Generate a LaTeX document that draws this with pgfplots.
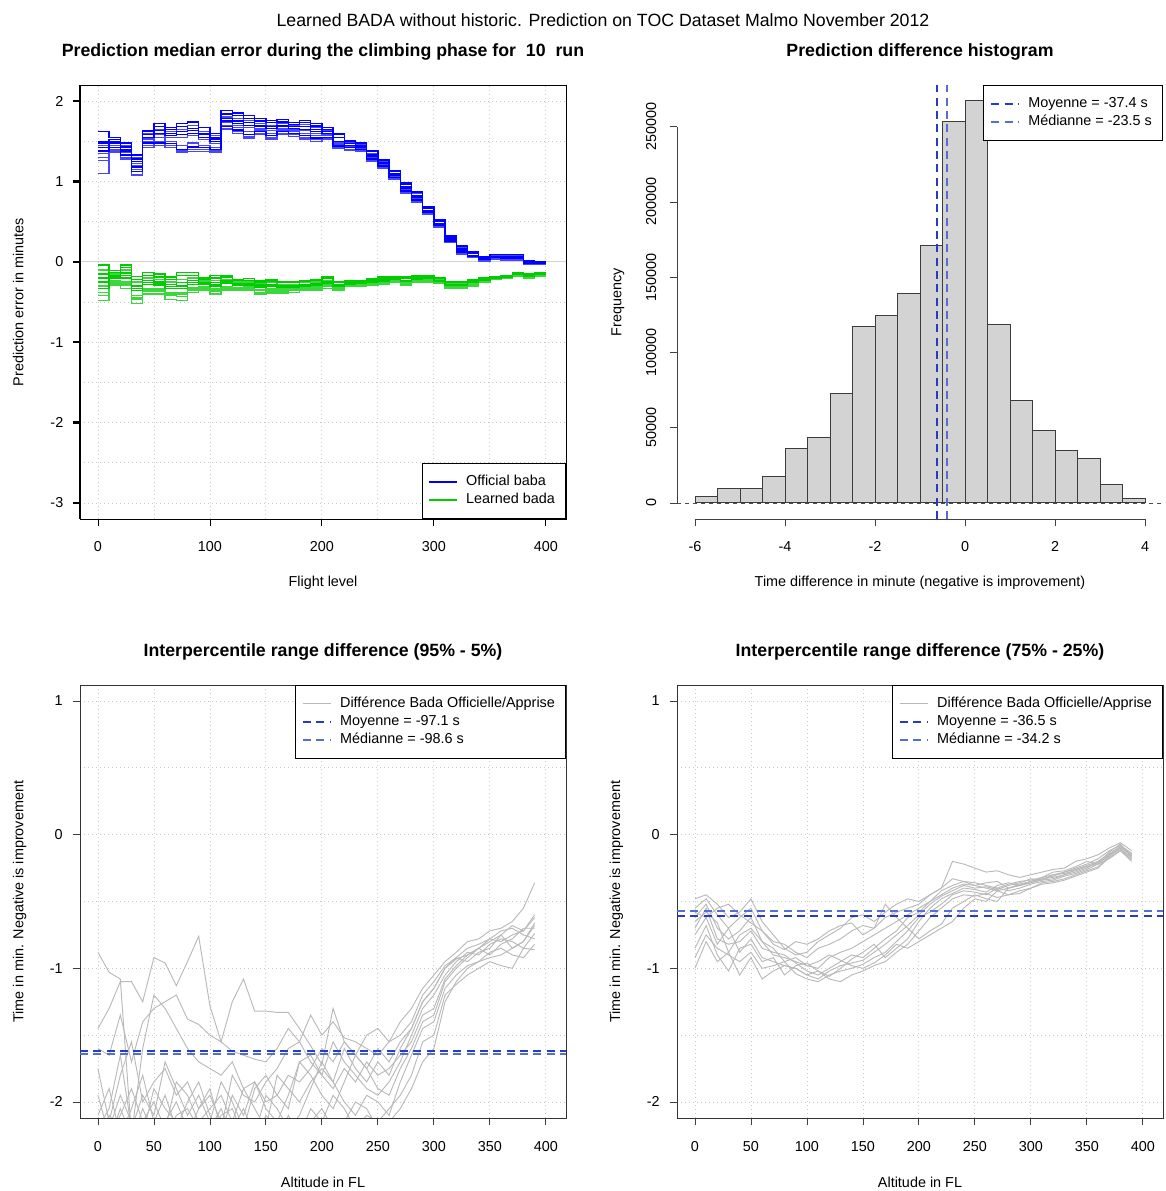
\documentclass[border=0pt]{standalone}
\usepackage{fontspec}
\setmainfont{Liberation Sans}
\usepackage{pgfplots}
\usepackage{pgfplotstable}
\pgfplotsset{compat=1.18}
\definecolor{meancol}{RGB}{40,60,190}
\definecolor{medcol}{RGB}{85,110,210}
\definecolor{offblue}{RGB}{0,0,255}
\definecolor{offblueL}{RGB}{70,70,255}
\definecolor{lrngreen}{RGB}{0,205,0}
\definecolor{lrngreenL}{RGB}{60,215,60}
\definecolor{gline}{RGB}{185,185,185}
\definecolor{gridcol}{RGB}{200,200,200}
\definecolor{barfill}{RGB}{211,211,211}
\definecolor{bardraw}{RGB}{60,60,60}
\newcommand{\basefont}{\fontsize{10.8}{13}\selectfont}
\newcommand{\titlefont}{\fontsize{13.3}{16}\selectfont\bfseries}
\tikzset{rdash/.style={dash pattern=on 6pt off 4pt}}

\pgfplotstableread{
x b1 b2 b3 b4 b5 b6 b7 b8 b9 b10 g1 g2 g3 g4 g5 g6 g7 g8 g9 g10
0 1.45 1.62 1.30 1.38 1.10 1.47 1.26 1.42 1.35 1.49 -0.10 -0.04 -0.30 -0.20 -0.48 -0.15 -0.38 -0.25 -0.42 -0.33
10 1.50 1.55 1.40 1.47 1.36 1.52 1.45 1.42 1.38 1.49 -0.15 -0.11 -0.24 -0.19 -0.29 -0.13 -0.27 -0.21 -0.25 -0.17
20 1.45 1.48 1.30 1.40 1.28 1.43 1.36 1.33 1.42 1.38 -0.10 -0.04 -0.25 -0.17 -0.33 -0.07 -0.29 -0.20 -0.27 -0.14
30 1.30 1.33 1.15 1.25 1.08 1.28 1.20 1.12 1.22 1.18 -0.25 -0.18 -0.42 -0.33 -0.52 -0.22 -0.47 -0.36 -0.45 -0.30
40 1.60 1.63 1.45 1.55 1.42 1.58 1.50 1.48 1.53 1.62 -0.20 -0.13 -0.33 -0.26 -0.40 -0.17 -0.37 -0.28 -0.35 -0.23
50 1.65 1.72 1.50 1.60 1.45 1.68 1.55 1.48 1.58 1.63 -0.22 -0.15 -0.34 -0.27 -0.40 -0.19 -0.37 -0.29 -0.35 -0.25
60 1.62 1.67 1.45 1.57 1.42 1.65 1.50 1.47 1.55 1.60 -0.25 -0.19 -0.38 -0.31 -0.47 -0.22 -0.42 -0.33 -0.40 -0.28
70 1.65 1.72 1.38 1.58 1.36 1.68 1.45 1.40 1.55 1.62 -0.22 -0.13 -0.38 -0.30 -0.48 -0.17 -0.43 -0.33 -0.40 -0.26
80 1.70 1.74 1.40 1.60 1.37 1.66 1.48 1.43 1.57 1.63 -0.20 -0.13 -0.32 -0.26 -0.38 -0.17 -0.35 -0.28 -0.33 -0.23
90 1.62 1.67 1.40 1.55 1.37 1.60 1.45 1.42 1.52 1.58 -0.24 -0.20 -0.31 -0.27 -0.35 -0.22 -0.33 -0.28 -0.32 -0.26
100 1.57 1.60 1.38 1.50 1.36 1.55 1.42 1.40 1.47 1.53 -0.23 -0.17 -0.34 -0.28 -0.40 -0.20 -0.37 -0.30 -0.35 -0.26
110 1.80 1.88 1.66 1.75 1.65 1.84 1.70 1.68 1.73 1.78 -0.22 -0.17 -0.31 -0.26 -0.35 -0.19 -0.33 -0.27 -0.32 -0.24
120 1.78 1.85 1.62 1.72 1.60 1.82 1.67 1.64 1.70 1.75 -0.25 -0.22 -0.32 -0.28 -0.35 -0.23 -0.33 -0.29 -0.32 -0.27
130 1.76 1.82 1.56 1.70 1.54 1.78 1.62 1.58 1.67 1.73 -0.25 -0.21 -0.32 -0.28 -0.35 -0.23 -0.33 -0.29 -0.31 -0.27
140 1.72 1.78 1.60 1.68 1.58 1.75 1.64 1.62 1.66 1.70 -0.27 -0.23 -0.36 -0.31 -0.40 -0.25 -0.38 -0.32 -0.35 -0.29
150 1.70 1.76 1.55 1.66 1.53 1.73 1.60 1.57 1.63 1.68 -0.26 -0.22 -0.35 -0.30 -0.39 -0.24 -0.37 -0.31 -0.34 -0.28
160 1.72 1.77 1.60 1.68 1.58 1.74 1.64 1.62 1.66 1.70 -0.28 -0.25 -0.35 -0.31 -0.39 -0.26 -0.37 -0.32 -0.34 -0.30
170 1.70 1.73 1.58 1.66 1.56 1.71 1.62 1.60 1.64 1.68 -0.28 -0.25 -0.34 -0.31 -0.38 -0.26 -0.36 -0.32 -0.33 -0.30
180 1.71 1.76 1.55 1.65 1.53 1.73 1.60 1.57 1.63 1.68 -0.26 -0.23 -0.32 -0.29 -0.35 -0.24 -0.34 -0.30 -0.31 -0.28
190 1.67 1.72 1.52 1.62 1.50 1.69 1.57 1.54 1.60 1.65 -0.25 -0.22 -0.32 -0.28 -0.35 -0.23 -0.33 -0.29 -0.31 -0.27
200 1.63 1.67 1.53 1.60 1.52 1.65 1.57 1.55 1.59 1.62 -0.23 -0.19 -0.30 -0.26 -0.33 -0.21 -0.31 -0.27 -0.29 -0.25
210 1.58 1.60 1.42 1.50 1.41 1.59 1.46 1.44 1.48 1.55 -0.28 -0.25 -0.32 -0.30 -0.35 -0.26 -0.34 -0.30 -0.31 -0.29
220 1.48 1.51 1.40 1.45 1.39 1.50 1.43 1.42 1.44 1.47 -0.26 -0.24 -0.29 -0.28 -0.31 -0.25 -0.30 -0.28 -0.29 -0.27
230 1.46 1.48 1.38 1.43 1.37 1.47 1.41 1.40 1.42 1.45 -0.25 -0.23 -0.29 -0.27 -0.31 -0.24 -0.30 -0.27 -0.28 -0.26
240 1.35 1.38 1.26 1.31 1.25 1.37 1.29 1.28 1.30 1.33 -0.23 -0.21 -0.27 -0.25 -0.29 -0.22 -0.28 -0.25 -0.26 -0.24
250 1.25 1.27 1.17 1.22 1.16 1.26 1.20 1.19 1.21 1.23 -0.21 -0.19 -0.26 -0.23 -0.28 -0.20 -0.27 -0.24 -0.25 -0.22
260 1.12 1.14 1.03 1.08 1.02 1.13 1.06 1.05 1.07 1.10 -0.20 -0.18 -0.24 -0.22 -0.26 -0.19 -0.25 -0.22 -0.23 -0.21
270 0.96 0.98 0.86 0.91 0.85 0.97 0.89 0.88 0.90 0.93 -0.21 -0.19 -0.27 -0.24 -0.29 -0.20 -0.28 -0.24 -0.26 -0.23
280 0.85 0.87 0.75 0.80 0.74 0.86 0.78 0.77 0.79 0.82 -0.19 -0.17 -0.24 -0.21 -0.26 -0.18 -0.25 -0.22 -0.23 -0.20
290 0.67 0.69 0.60 0.64 0.59 0.68 0.63 0.62 0.64 0.66 -0.19 -0.17 -0.23 -0.21 -0.25 -0.18 -0.24 -0.21 -0.22 -0.20
300 0.52 0.53 0.44 0.48 0.43 0.52 0.47 0.46 0.48 0.50 -0.22 -0.20 -0.25 -0.23 -0.27 -0.21 -0.26 -0.24 -0.25 -0.23
310 0.31 0.32 0.25 0.28 0.24 0.31 0.27 0.26 0.28 0.29 -0.27 -0.25 -0.31 -0.29 -0.33 -0.26 -0.32 -0.29 -0.30 -0.28
320 0.18 0.20 0.10 0.14 0.09 0.19 0.13 0.12 0.14 0.16 -0.27 -0.25 -0.31 -0.29 -0.33 -0.26 -0.32 -0.29 -0.30 -0.28
330 0.11 0.12 0.05 0.08 0.05 0.12 0.07 0.07 0.08 0.10 -0.24 -0.22 -0.28 -0.26 -0.30 -0.23 -0.29 -0.26 -0.27 -0.25
340 0.06 0.07 0.02 0.04 0.01 0.06 0.03 0.03 0.04 0.05 -0.21 -0.20 -0.24 -0.22 -0.25 -0.20 -0.24 -0.23 -0.23 -0.22
350 0.08 0.09 0.04 0.06 0.03 0.09 0.05 0.05 0.06 0.07 -0.19 -0.18 -0.21 -0.20 -0.22 -0.18 -0.21 -0.20 -0.21 -0.19
360 0.08 0.09 0.03 0.06 0.02 0.09 0.05 0.04 0.06 0.07 -0.18 -0.17 -0.20 -0.19 -0.21 -0.17 -0.20 -0.19 -0.20 -0.18
370 0.08 0.09 0.03 0.05 0.02 0.09 0.04 0.04 0.05 0.07 -0.14 -0.13 -0.17 -0.15 -0.18 -0.14 -0.17 -0.16 -0.16 -0.15
380 0.00 0.01 -0.02 -0.01 -0.03 0.01 -0.01 -0.02 -0.01 0.00 -0.16 -0.15 -0.19 -0.17 -0.20 -0.16 -0.19 -0.18 -0.18 -0.17
390 0.00 0.00 -0.02 -0.01 -0.03 0.00 -0.01 -0.02 -0.02 -0.01 -0.14 -0.13 -0.17 -0.15 -0.18 -0.14 -0.17 -0.16 -0.16 -0.15
400 0.00 0.00 -0.02 -0.01 -0.03 0.00 -0.01 -0.02 -0.02 -0.01 -0.14 -0.13 -0.17 -0.15 -0.18 -0.14 -0.17 -0.16 -0.16 -0.15
}\toptab

\pgfplotstableread{
x a1 a2 a3 a4 a5 a6 a7 a8 a9 a10
0 -0.88 -1.45 -1.60 -1.75 -2.20 -1.95 -2.10 -2.25 -2.30 -2.15
10 -1.03 -1.30 -1.65 -2.15 -2.05 -2.25 -1.90 -2.20 -2.10 -2.30
20 -1.08 -1.10 -1.35 -1.80 -1.65 -2.10 -2.25 -1.95 -2.20 -2.05
30 -2.25 -1.10 -1.70 -1.55 -2.20 -1.90 -2.05 -2.15 -2.30 -2.25
40 -1.60 -1.25 -1.40 -2.00 -1.95 -2.15 -1.80 -2.25 -2.05 -2.30
50 -1.20 -0.92 -1.30 -1.85 -2.10 -2.00 -2.15 -1.90 -2.25 -2.20
60 -1.30 -0.96 -1.25 -1.75 -1.70 -2.20 -1.95 -2.05 -2.15 -2.30
70 -1.45 -1.13 -1.20 -1.95 -1.90 -1.85 -2.20 -2.15 -2.00 -2.10
80 -1.60 -0.95 -1.38 -1.85 -2.10 -1.95 -2.00 -2.25 -2.20 -2.05
90 -1.70 -0.76 -1.42 -2.05 -1.95 -2.15 -1.85 -2.05 -2.30 -2.20
100 -1.75 -1.28 -1.50 -1.90 -2.15 -2.05 -2.10 -1.95 -2.20 -2.30
110 -1.80 -1.55 -1.55 -2.20 -1.85 -1.95 -2.25 -2.15 -2.05 -2.10
120 -1.70 -1.25 -1.62 -1.80 -2.00 -2.15 -1.95 -2.20 -2.25 -2.05
130 -1.90 -1.08 -1.65 -1.95 -2.20 -1.90 -2.10 -2.05 -2.30 -2.25
140 -1.85 -1.32 -1.68 -2.00 -1.90 -2.05 -1.85 -2.25 -2.15 -2.30
150 -2.00 -1.32 -1.70 -1.85 -1.80 -2.20 -2.05 -1.95 -2.25 -2.10
160 -1.95 -1.33 -1.60 -1.75 -1.95 -1.80 -2.15 -2.05 -2.30 -2.20
170 -1.80 -1.33 -1.45 -1.60 -2.05 -1.90 -1.95 -2.20 -2.10 -2.30
180 -1.85 -1.45 -1.55 -1.55 -1.70 -2.00 -1.70 -2.10 -2.25 -2.20
190 -1.75 -1.58 -1.35 -1.70 -1.65 -1.85 -1.80 -1.90 -2.05 -2.15
200 -1.60 -1.72 -1.50 -1.80 -1.80 -1.75 -1.95 -1.70 -2.15 -2.05
210 -1.70 -1.30 -1.40 -1.90 -1.55 -1.85 -2.05 -1.85 -1.95 -2.20
220 -1.55 -1.55 -1.52 -1.75 -1.70 -1.60 -1.85 -2.00 -2.05 -2.15
230 -1.65 -1.65 -1.55 -1.85 -1.80 -1.75 -1.65 -2.10 -2.20 -2.00
240 -1.50 -1.75 -1.60 -1.70 -1.90 -1.85 -1.75 -1.95 -2.10 -2.05
250 -1.45 -1.60 -1.65 -1.80 -1.95 -1.70 -1.90 -2.00 -2.15 -2.20
260 -1.55 -1.70 -1.55 -1.75 -1.85 -1.80 -1.95 -2.10 -2.05 -2.15
270 -1.40 -1.55 -1.50 -1.65 -1.70 -1.60 -1.75 -1.85 -1.95 -2.05
280 -1.30 -1.45 -1.40 -1.55 -1.50 -1.45 -1.60 -1.65 -1.80 -1.90
290 -1.15 -1.25 -1.20 -1.35 -1.30 -1.25 -1.40 -1.45 -1.55 -1.70
300 -1.05 -1.15 -1.10 -1.30 -1.20 -1.15 -1.35 -1.40 -1.50 -1.60
310 -0.95 -1.00 -0.98 -1.08 -1.05 -1.00 -1.10 -1.15 -1.20 -1.25
320 -0.88 -0.93 -0.92 -0.98 -0.95 -0.92 -1.00 -1.05 -1.12 -1.10
330 -0.80 -0.90 -0.85 -0.90 -0.88 -0.95 -0.92 -0.98 -1.05 -1.00
340 -0.78 -0.85 -0.82 -0.85 -0.90 -0.88 -0.85 -0.95 -1.00 -0.95
350 -0.72 -0.80 -0.78 -0.78 -0.82 -0.85 -0.90 -0.88 -0.95 -0.92
360 -0.70 -0.75 -0.80 -0.72 -0.78 -0.75 -0.82 -0.85 -0.98 -0.90
370 -0.65 -0.85 -0.75 -0.70 -0.80 -0.68 -0.78 -0.90 -1.00 -0.85
380 -0.55 -0.80 -0.72 -0.75 -0.85 -0.72 -0.70 -0.92 -0.85 -0.80
390 -0.36 -0.68 -0.60 -0.78 -0.86 -0.62 -0.70 -0.82 -0.74 -0.66
}\botA

\pgfplotstableread{
x c1 c2 c3 c4 c5 c6 c7 c8 c9 c10
0 -0.48 -0.55 -0.62 -0.70 -0.75 -0.85 -0.92 -1.00 -0.58 -0.65
10 -0.45 -0.48 -0.52 -0.55 -0.62 -0.68 -0.75 -0.80 -0.62 -0.58
20 -0.52 -0.60 -0.70 -0.78 -0.82 -0.90 -0.85 -0.95 -0.55 -0.66
30 -0.62 -0.70 -0.78 -0.82 -0.70 -1.02 -0.90 -0.88 -0.52 -0.88
40 -0.58 -0.62 -0.72 -0.80 -0.88 -0.85 -0.95 -1.05 -0.60 -0.75
50 -0.48 -0.55 -0.62 -0.72 -0.78 -0.82 -0.88 -0.92 -0.66 -0.70
60 -0.65 -0.72 -0.80 -0.85 -0.92 -0.95 -1.00 -1.08 -0.72 -0.80
70 -0.75 -0.80 -0.85 -0.88 -0.95 -0.92 -0.98 -1.02 -0.82 -0.90
80 -0.85 -0.82 -0.95 -0.90 -0.98 -1.05 -0.95 -0.98 -0.86 -0.92
90 -0.90 -0.88 -0.92 -0.96 -1.00 -0.98 -1.04 -1.00 -0.80 -0.95
100 -0.88 -0.92 -0.98 -1.02 -1.05 -0.96 -1.08 -1.05 -0.82 -0.98
110 -0.80 -0.85 -1.00 -1.05 -1.08 -1.02 -1.10 -1.02 -0.78 -0.95
120 -0.75 -0.82 -0.92 -1.00 -1.02 -1.06 -1.05 -1.08 -0.72 -0.90
130 -0.70 -0.78 -0.88 -0.95 -0.98 -1.00 -1.02 -1.10 -0.68 -0.94
140 -0.62 -0.72 -0.85 -0.90 -0.96 -0.93 -1.00 -1.05 -0.66 -0.98
150 -0.60 -0.68 -0.80 -0.92 -0.94 -0.88 -0.97 -1.02 -0.75 -1.00
160 -0.65 -0.70 -0.75 -0.85 -0.88 -0.82 -0.92 -0.98 -0.70 -0.96
170 -0.58 -0.62 -0.70 -0.78 -0.82 -0.92 -0.88 -0.95 -0.52 -0.90
180 -0.52 -0.58 -0.65 -0.72 -0.75 -0.85 -0.80 -0.88 -0.62 -0.82
190 -0.48 -0.55 -0.60 -0.62 -0.68 -0.78 -0.72 -0.82 -0.70 -0.85
200 -0.50 -0.52 -0.55 -0.58 -0.60 -0.65 -0.62 -0.72 -0.78 -0.80
210 -0.45 -0.45 -0.50 -0.50 -0.52 -0.55 -0.58 -0.62 -0.72 -0.75
220 -0.40 -0.40 -0.42 -0.45 -0.46 -0.48 -0.52 -0.55 -0.67 -0.70
230 -0.20 -0.33 -0.38 -0.40 -0.42 -0.44 -0.45 -0.48 -0.55 -0.65
240 -0.22 -0.35 -0.35 -0.37 -0.38 -0.40 -0.42 -0.45 -0.50 -0.55
250 -0.25 -0.38 -0.36 -0.38 -0.40 -0.41 -0.43 -0.46 -0.45 -0.48
260 -0.28 -0.36 -0.38 -0.40 -0.39 -0.43 -0.45 -0.44 -0.48 -0.50
270 -0.27 -0.35 -0.40 -0.42 -0.41 -0.38 -0.40 -0.47 -0.50 -0.42
280 -0.30 -0.40 -0.37 -0.40 -0.38 -0.36 -0.42 -0.45 -0.40 -0.45
290 -0.32 -0.38 -0.35 -0.37 -0.36 -0.38 -0.40 -0.42 -0.38 -0.44
300 -0.30 -0.35 -0.34 -0.35 -0.33 -0.36 -0.37 -0.40 -0.36 -0.40
310 -0.28 -0.32 -0.32 -0.33 -0.34 -0.33 -0.35 -0.36 -0.34 -0.37
320 -0.26 -0.30 -0.28 -0.31 -0.30 -0.32 -0.34 -0.35 -0.33 -0.36
330 -0.25 -0.28 -0.27 -0.28 -0.29 -0.30 -0.31 -0.33 -0.30 -0.34
340 -0.20 -0.25 -0.24 -0.26 -0.27 -0.28 -0.29 -0.30 -0.26 -0.31
350 -0.18 -0.22 -0.20 -0.23 -0.24 -0.25 -0.26 -0.27 -0.24 -0.28
360 -0.15 -0.18 -0.22 -0.20 -0.21 -0.20 -0.22 -0.24 -0.22 -0.25
370 -0.10 -0.12 -0.15 -0.14 -0.13 -0.16 -0.15 -0.16 -0.18 -0.17
380 -0.06 -0.08 -0.10 -0.09 -0.07 -0.08 -0.10 -0.11 -0.12 -0.12
390 -0.12 -0.15 -0.14 -0.16 -0.17 -0.14 -0.18 -0.19 -0.20 -0.16
}\botB

\pgfplotsset{
  rpanel/.style={
    scale only axis, width=364.5pt, height=325.5pt, anchor=south west,
    tick align=outside, major tick length=5.5pt, minor tick length=0pt,
    xtick pos=bottom, ytick pos=left,
    tick label style={font=\basefont},
    /pgf/number format/assume math mode=true,
    grid style={gridcol, dash pattern=on 1pt off 2pt, line width=0.6pt},
    xticklabel shift=8pt,
    yticklabel shift=3.5pt,
    legend cell align=left,
    legend style={font=\basefont, draw=black, line width=0.6pt, fill=white,
      inner xsep=5pt, inner ysep=7.1pt, row sep=0pt,
      nodes={inner ysep=1.5pt, inner xsep=3pt, text height=8pt, text depth=2.5pt},
      /tikz/every odd column/.append style={column sep=3pt}},
    legend image code/.code={\draw[##1] (0pt,0pt) -- (21pt,0pt);},
  },
}

\begin{document}
\begin{tikzpicture}
\path[use as bounding box] (0pt,0pt) rectangle (873.75pt,893.25pt);

% ---------------- Panel 1
\begin{axis}[rpanel, at={(60pt,504pt)},
  xmin=-16, xmax=418, ymin=-3.2, ymax=2.2,
  xtick={0,100,...,400}, minor xtick={50,150,250,350},
  ytick={-3,-2,...,2}, minor ytick={-2.5,-1.5,-0.5,0.5,1.5},
  grid=both, axis line style={black, line width=0.6pt},
  xtick style={black, line width=0.6pt}, ytick style={black, line width=1.6pt},
  legend style={at={(1,0)}, anchor=south east}]
\addplot[gray!35, line width=0.8pt, forget plot] coordinates {(-16,0) (418,0)};
\pgfplotsinvokeforeach{1,3,5,7,9}{
  \addplot[const plot, color=offblueL, line width=1pt, forget plot] table[x=x, y=b#1] {\toptab};
  \addplot[const plot, color=lrngreenL, line width=1pt, forget plot] table[x=x, y=g#1] {\toptab};
}
\pgfplotsinvokeforeach{2,4,6,8,10}{
  \addplot[const plot, color=offblue, line width=1pt, forget plot] table[x=x, y=b#1] {\toptab};
  \addplot[const plot, color=lrngreen, line width=1pt, forget plot] table[x=x, y=g#1] {\toptab};
}
\addlegendimage{offblue, line width=1pt}
\addlegendentry{Official baba}
\addlegendimage{lrngreen, line width=1pt}
\addlegendentry{Learned bada}
\end{axis}
\draw[black, line width=1.6pt] (60pt,504pt) -- (60pt,829.5pt);

% ---------------- Panel 2 histogram
\begin{axis}[rpanel, at={(507.75pt,504pt)},
  xmin=-6.4, xmax=4.4, ymin=-10630, ymax=277700,
  axis x line*=bottom, axis y line*=left, axis line style={draw=none},
  xtick={-6,-4,...,4}, ytick={0,50000,...,250000},
  scaled y ticks=false, clip=false,
  tick style={black!75, line width=0.6pt},
  yticklabel shift=6.5pt,
  yticklabel style={rotate=90, anchor=south, /pgf/number format/fixed, /pgf/number format/1000 sep={}},
  legend style={at={(1,1)}, anchor=north east}]
\addplot[black!70, line width=0.6pt, dash pattern=on 3pt off 3pt, forget plot] coordinates {(-6.4,0) (4.4,0)};
\addplot[ybar interval, fill=barfill, draw=bardraw, line width=0.75pt, forget plot] coordinates {
(-6,4200) (-5.5,9300) (-5,9300) (-4.5,17500) (-4,36400) (-3.5,43400) (-3,72700) (-2.5,117200) (-2,124300) (-1.5,139400) (-1,171300) (-0.5,253500) (0,267300) (0.5,118800) (1,68300) (1.5,47900) (2,35000) (2.5,29700) (3,12400) (3.5,3100) (4,0)};
\addplot[meancol, rdash, line width=1.5pt, forget plot] coordinates {(-0.623,-10630) (-0.623,277700)};
\addplot[medcol, rdash, line width=1.5pt, forget plot] coordinates {(-0.392,-10630) (-0.392,277700)};
\draw[black!75, line width=0.6pt] (axis cs:-6,-10630) -- (axis cs:4,-10630);
\draw[black!75, line width=0.6pt] (axis cs:-6.4,0) -- (axis cs:-6.4,250000);
\addlegendimage{meancol, rdash, line width=1.5pt}
\addlegendentry{Moyenne = -37.4 s}
\addlegendimage{medcol, rdash, line width=1.5pt}
\addlegendentry{Médianne = -23.5 s}
\end{axis}

% ---------------- Panel 3
\begin{axis}[rpanel, at={(60pt,54.75pt)}, height=324.75pt,
  xmin=-16, xmax=418, ymin=-2.12, ymax=1.12,
  xtick={0,50,...,400}, ytick={-2,-1,0,1}, minor ytick={-1.5,-0.5,0.5},
  grid=both, axis line style={black!80, line width=0.6pt},
  tick style={black!75, line width=0.6pt},
  xticklabel shift=8.5pt, yticklabel shift=4pt,
  legend style={at={(1,1)}, anchor=north east}]
\pgfplotsinvokeforeach{1,...,10}{
  \addplot[gline, line width=0.7pt, forget plot] table[x=x, y=a#1] {\botA};
}
\addplot[meancol, rdash, line width=1.5pt, forget plot] coordinates {(-16,-1.6183) (418,-1.6183)};
\addplot[medcol, rdash, line width=1.5pt, forget plot] coordinates {(-16,-1.6433) (418,-1.6433)};
\addlegendimage{gline, line width=0.7pt}
\addlegendentry{Différence Bada Officielle/Apprise}
\addlegendimage{meancol, rdash, line width=1.5pt}
\addlegendentry{Moyenne = -97.1 s}
\addlegendimage{medcol, rdash, line width=1.5pt}
\addlegendentry{Médianne = -98.6 s}
\end{axis}

% ---------------- Panel 4
\begin{axis}[rpanel, at={(507.75pt,54.75pt)}, height=324.75pt,
  xmin=-16, xmax=418, ymin=-2.12, ymax=1.12,
  xtick={0,50,...,400}, ytick={-2,-1,0,1}, minor ytick={-1.5,-0.5,0.5},
  grid=both, axis line style={black!80, line width=0.6pt},
  tick style={black!75, line width=0.6pt},
  xticklabel shift=8.5pt, yticklabel shift=4pt,
  legend style={at={(1,1)}, anchor=north east}]
\pgfplotsinvokeforeach{1,...,10}{
  \addplot[gline, line width=0.7pt, forget plot] table[x=x, y=c#1] {\botB};
}
\addplot[meancol, rdash, line width=1.5pt, forget plot] coordinates {(-16,-0.6083) (418,-0.6083)};
\addplot[medcol, rdash, line width=1.5pt, forget plot] coordinates {(-16,-0.57) (418,-0.57)};
\addlegendimage{gline, line width=0.7pt}
\addlegendentry{Différence Bada Officielle/Apprise}
\addlegendimage{meancol, rdash, line width=1.5pt}
\addlegendentry{Moyenne = -36.5 s}
\addlegendimage{medcol, rdash, line width=1.5pt}
\addlegendentry{Médianne = -34.2 s}
\end{axis}

% ---------------- Titles and labels
\node[anchor=base, font=\fontsize{13.3}{16}\selectfont] at (452.25pt,873.5pt) {Learned BADA without historic. Prediction on TOC Dataset Malmo November 2012};
\node[anchor=base, font=\titlefont] at (242.25pt,851pt) {Prediction median error during the climbing phase for\ \ 10\ \ run};
\node[anchor=base, font=\titlefont] at (690pt,851pt) {Prediction difference histogram};
\node[anchor=base, font=\titlefont] at (242.25pt,401pt) {Interpercentile range difference (95\% - 5\%)};
\node[anchor=base, font=\titlefont] at (690pt,401pt) {Interpercentile range difference (75\% - 25\%)};
\node[anchor=base, font=\basefont] at (242.25pt,453pt) {Flight level};
\node[anchor=base, font=\basefont] at (690pt,453pt) {Time difference in minute (negative is improvement)};
\node[anchor=base, font=\basefont] at (242.25pt,2.5pt) {Altitude in FL};
\node[anchor=base, font=\basefont] at (690pt,2.5pt) {Altitude in FL};
\node[anchor=base, rotate=90, font=\basefont] at (17.5pt,666.75pt) {Prediction error in minutes};
\node[anchor=base, rotate=90, font=\basefont] at (466pt,666.75pt) {Frequency};
\node[anchor=base, rotate=90, font=\basefont] at (17.5pt,217pt) {Time in min. Negative is improvement};
\node[anchor=base, rotate=90, font=\basefont] at (465pt,217pt) {Time in min. Negative is improvement};
\end{tikzpicture}
\end{document}
